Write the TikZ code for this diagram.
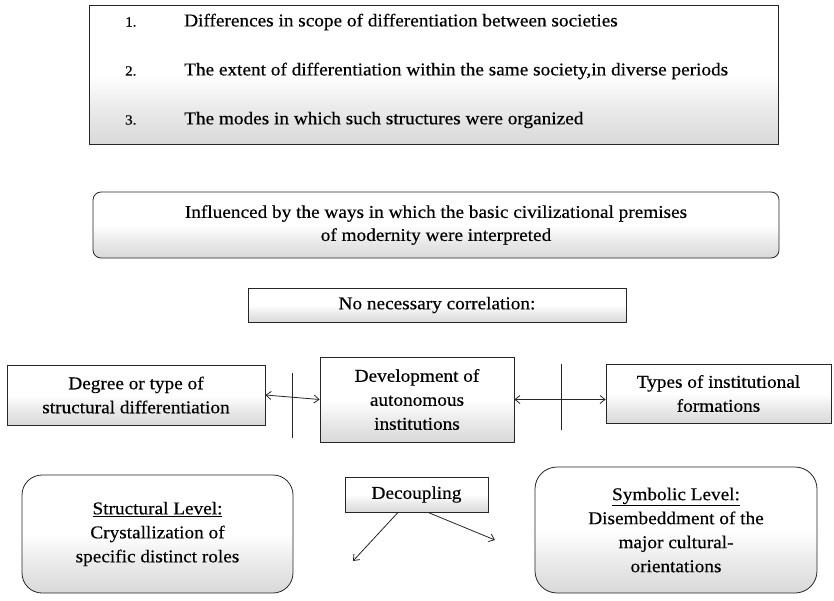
\documentclass[tikz,border=0pt]{standalone}
\usepackage{fontspec}
\setmainfont[FakeStretch=1.07,FakeBold=0.4]{Liberation Serif}
\usetikzlibrary{arrows.meta}
\pgfdeclareverticalshading{scanfade}{100bp}{color(0bp)=(black!17); color(25bp)=(black!15); color(38bp)=(black!8); color(50bp)=(white); color(100bp)=(white)}
\begin{document}
\begin{tikzpicture}[x=1pt,y=-1pt,
  box/.style={draw=black!85, line width=0.8pt, shading=scanfade, inner sep=0pt, align=center, font=\fontsize{18}{24}\selectfont},
  itemlbl/.style={inner sep=0pt, anchor=west, font=\fontsize{14}{15}\selectfont},
  itemtxt/.style={inner sep=0pt, anchor=west, font=\fontsize{18}{20}\selectfont},
  dbl/.style={{Straight Barb[length=5pt,width=8pt]}-{Straight Barb[length=5pt,width=8pt]}, line width=0.8pt, black!85},
  sgl/.style={-{Straight Barb[length=5pt,width=8pt]}, line width=0.8pt, black!85},
  tick/.style={line width=0.8pt, black!85}
]
\useasboundingbox (0,0) rectangle (834,601);

% top list box
\node[box, minimum width=689pt, minimum height=139pt] (top) at (433.5,74.5) {};
\node[itemlbl] (n1) at (125,22) {1.};
\node[itemtxt] (t1) at (184,22) {Differences in scope of differentiation between societies};
\node[itemlbl] (n2) at (125,71) {2.};
\node[itemtxt] (t2) at (184,71) {The extent of differentiation within the same society,in diverse periods};
\node[itemlbl] (n3) at (125,120) {3.};
\node[itemtxt] (t3) at (184,120) {The modes in which such structures were organized};

% influenced box
\node[box, rounded corners=8pt, minimum width=686pt, minimum height=66pt, font=\fontsize{18}{23}\selectfont] (infl) at (436,225)
  {Influenced by the ways in which the basic civilizational premises\\of modernity were interpreted};

% no necessary correlation
\node[box, minimum width=378pt, minimum height=34pt] (corr) at (437,305) {No necessary correlation:};

% middle row
\node[box, minimum width=258pt, minimum height=60pt] (degree) at (136,395) {Degree or type of\\structural differentiation};
\node[box, minimum width=194pt, minimum height=85pt] (devel) at (417,399.5) {Development of\\autonomous\\institutions};
\node[box, minimum width=225pt, minimum height=59pt] (types) at (718.5,393.5) {Types of institutional\\formations};

\draw[dbl] (degree.east) -- (devel.west);
\draw[dbl] (devel.east) -- (devel.east -| types.west);
\coordinate (tk1a) at (292,373);
\coordinate (tk1b) at (292,438);
\coordinate (tk2a) at (561,364);
\coordinate (tk2b) at (561,430);
\draw[tick] (tk1a) -- (tk1b);
\draw[tick] (tk2a) -- (tk2b);

% bottom row
\node[box, rounded corners=20pt, minimum width=271pt, minimum height=118pt] (struct) at (157.5,534)
  {\underline{Structural Level:}\\Crystallization of\\specific distinct roles};
\node[box, minimum width=143pt, minimum height=35pt] (dec) at (416.5,494.5) {Decoupling};
\node[box, rounded corners=22pt, minimum width=282pt, minimum height=126pt] (symb) at (676,530)
  {\underline{Symbolic Level:}\\Disembeddment of the\\major cultural-\\orientations};

\coordinate (dl) at (353,561);
\coordinate (dr) at (495,540);
\draw[sgl] ([xshift=-18.5pt]dec.south) -- (dl);
\draw[sgl] ([xshift=11.5pt]dec.south) -- (dr);
\end{tikzpicture}
\end{document}
